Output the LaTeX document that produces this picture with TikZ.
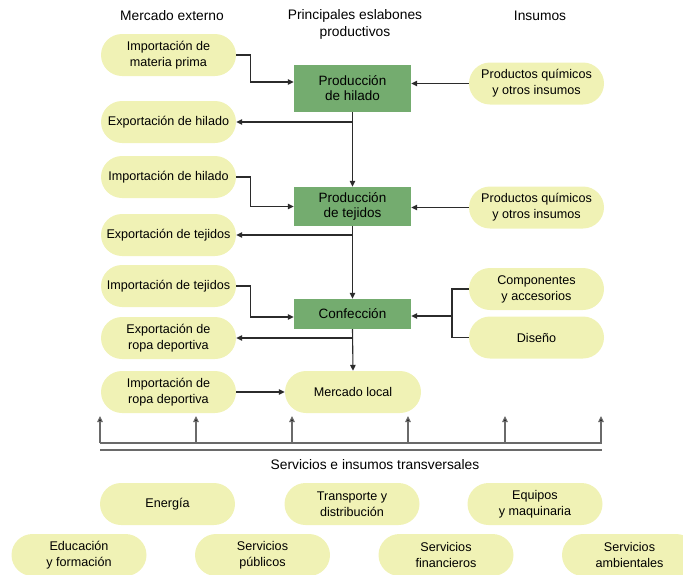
\documentclass[tikz,border=0pt]{standalone}
\usepackage{fontspec}
\setmainfont{Liberation Sans}
\usetikzlibrary{arrows.meta}
\colorlet{verde}{green!50!black}
\definecolor{eslabon}{HTML}{74AC6F}
\definecolor{insumo}{HTML}{F0F2B5}
\definecolor{linea}{HTML}{2B2B2B}
\definecolor{barra}{HTML}{6A6A6A}

\tikzset{
    pill/.style={fill=insumo, rounded corners=21pt, minimum width=135pt,
        minimum height=42pt, align=center, inner sep=0pt,
        font=\fontsize{12.6}{16}\selectfont},
    eslab/.style={fill=eslabon, minimum width=117pt, align=center, inner sep=0pt,
        font=\fontsize{13.5}{15}\selectfont},
    titulo/.style={align=center, font=\fontsize{13.8}{17}\selectfont},
    flecha/.style={draw=linea, line width=1.1pt, -{Triangle[length=6pt,width=5.5pt]}},
    tramo/.style={draw=linea, line width=1.1pt},
    sube/.style={draw=barra, line width=1.2pt, -{Triangle[length=6pt,width=5.5pt,fill=black]}}
}

\begin{document}
\begin{tikzpicture}[x=1pt, y=-1pt]
    \useasboundingbox (0,0) rectangle (683,574);

    \node[titulo] (tmerc) at (172,16) {Mercado externo};
    \node[titulo] (tesla) at (355,24) {Principales eslabones\\productivos};
    \node[titulo] (tins) at (540,16) {Insumos};

    % mercado externo
    \node[pill] (impMat) at (168.5,55) {Importación de\\materia prima};
    \node[pill] (expHil) at (168.5,122) {Exportación de hilado};
    \node[pill] (impHil) at (168.5,177) {Importación de hilado};
    \node[pill] (expTej) at (168.5,235) {Exportación de tejidos};
    \node[pill] (impTej) at (168.5,286) {Importación de tejidos};
    \node[pill] (expRopa) at (168.5,338) {Exportación de\\ropa deportiva};
    \node[pill] (impRopa) at (168.5,392) {Importación de\\ropa deportiva};

    % eslabones
    \node[eslab, minimum height=47pt] (hilado) at (352.5,88.5) {Producción\\de hilado};
    \node[eslab, minimum height=39pt] (tejidos) at (352.5,206.5) {Producción\\de tejidos};
    \node[eslab, minimum height=30pt] (confec) at (352.5,314) {Confección};
    \node[pill, minimum width=136pt] (local) at (353,392) {Mercado local};

    % insumos
    \node[pill] (quim1) at (536.5,83.5) {Productos químicos\\y otros insumos};
    \node[pill] (quim2) at (536.5,207.5) {Productos químicos\\y otros insumos};
    \node[pill] (comp) at (536.5,289) {Componentes\\y accesorios};
    \node[pill] (diseno) at (536.5,337.5) {Diseño};

    % servicios transversales
    \node[pill] (energia) at (167.5,504) {Energía};
    \node[pill] (transp) at (352,504) {Transporte y\\distribución};
    \node[pill] (equipos) at (535,504) {Equipos\\y maquinaria};
    \node[pill] (educ) at (79,555) {Educación\\y formación};
    \node[pill] (publ) at (262.5,555) {Servicios\\públicos};
    \node[pill] (finan) at (446,555) {Servicios\\financieros};
    \node[pill] (amb) at (629.5,555) {Servicios\\ambientales};

    % cadena principal
    \draw[flecha] (hilado.south) -- (tejidos.north);
    \draw[flecha] (tejidos.south) -- (confec.north);
    \draw[flecha] (confec.south) -- (local.north);

    \draw[flecha] (impMat.east) -- ++(14,0) |- ([yshift=6.5pt]hilado.west);
    \draw[flecha] (impHil.east) -- ++(14,0) |- (tejidos.west);
    \draw[flecha] (impTej.east) -- ++(14,0) |- ([yshift=-3pt]confec.west);

    \draw[flecha] (hilado.south |- expHil.east) -- (expHil.east);
    \draw[flecha] (tejidos.south |- expTej.east) -- (expTej.east);
    \draw[flecha] (confec.south |- expRopa.east) -- (expRopa.east);
    \draw[flecha] (impRopa.east) -- (local.west);

    \draw[flecha] (quim1.west) -- (quim1.west -| hilado.east);
    \draw[flecha] (quim2.west) -- (quim2.west -| tejidos.east);
    \coordinate (llave) at (452,316);
    \draw[tramo] (comp.west) -| (llave) |- (diseno.west);
    \draw[flecha] (llave) -- ([yshift=-2pt]confec.east);

    % barra de servicios
    \coordinate (barIzq) at (100,443);
    \coordinate (barDer) at (602,443);
    \draw[draw=barra, line width=1.8pt] (barIzq) -- (barDer);
    \foreach \x [count=\i] in {100,196,292,408,505,601} {
        \coordinate (pie\i) at (\x,443);
        \coordinate (tope\i) at (\x,416);
        \draw[sube] (pie\i) -- (tope\i);
    }
    \coordinate (sepIzq) at (100,450);
    \coordinate (sepDer) at (602,450);
    \draw[draw=barra, line width=1.5pt] (sepIzq) -- (sepDer);
    \node[titulo] (tserv) at (375,465) {Servicios e insumos transversales};
\end{tikzpicture}
\end{document}
